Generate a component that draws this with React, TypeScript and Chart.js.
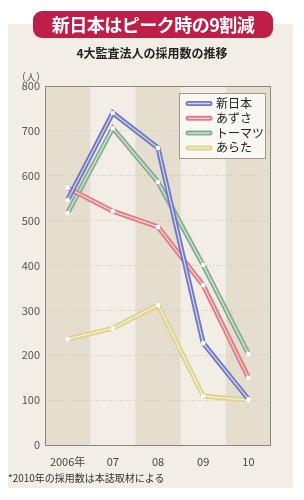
import React, { useEffect, useRef } from "react";
import { Chart, registerables } from "chart.js";

Chart.register(...registerables);

const categories = ["2006年", "07", "08", "09", "10"];
const seriesNames = ["新日本", "あずさ", "トーマツ", "あらた"];
const shinnihon = [546, 740, 662, 227, 102];
const azusa = [573, 521, 486, 356, 150];
const tohmatsu = [517, 706, 586, 401, 203];
const arata = [236, 260, 312, 109, 100];
const yMin = 0;
const yMax = 800;
const yStep = 100;

const lineColors = ["#7079c4", "#e27b84", "#86ad92", "#ddd38f"];
const stripeColors = ["#d2d5f2", "#f6d3d6", "#d8e8dc", "#f5f0d2"];
const FONT = "'Noto Sans CJK JP', 'Noto Sans', sans-serif";

const chartPlugin = {
  id: "decor",
  beforeDraw(chart: any) {
    const { ctx, chartArea } = chart;
    const xs = chart.scales.x;
    const w = xs.getPixelForValue(1) - xs.getPixelForValue(0);
    ctx.save();
    ctx.fillStyle = "#f2eee5";
    ctx.fillRect(chartArea.left, chartArea.top, chartArea.right - chartArea.left, chartArea.bottom - chartArea.top);
    ctx.fillStyle = "#e5decf";
    for (let i = 0; i < categories.length; i += 2) {
      const c = xs.getPixelForValue(i);
      const l = Math.max(chartArea.left, c - w / 2);
      const r = Math.min(chartArea.right, c + w / 2);
      ctx.fillRect(l, chartArea.top, r - l, chartArea.bottom - chartArea.top);
    }
    ctx.restore();
  },
  afterDatasetDraw(chart: any, args: any) {
    const { ctx } = chart;
    const pts = args.meta.data;
    const i = args.index;
    ctx.save();
    ctx.strokeStyle = stripeColors[i];
    ctx.lineWidth = 1.3;
    ctx.beginPath();
    pts.forEach((p: any, k: number) => (k === 0 ? ctx.moveTo(p.x, p.y) : ctx.lineTo(p.x, p.y)));
    ctx.stroke();
    ctx.fillStyle = "#ffffff";
    pts.forEach((p: any) => {
      ctx.beginPath();
      ctx.arc(p.x, p.y, 2.3, 0, Math.PI * 2);
      ctx.fill();
    });
    ctx.restore();
  },
  afterDraw(chart: any) {
    const { ctx, chartArea } = chart;
    ctx.save();
    ctx.strokeStyle = "#8c877c";
    ctx.lineWidth = 1;
    ctx.strokeRect(chartArea.left + 0.5, chartArea.top + 0.5, chartArea.right - chartArea.left - 1, chartArea.bottom - chartArea.top);
    // legend
    const lx = 179, ly = 93, lw = 86, lh = 65;
    ctx.fillStyle = "rgba(250,248,243,0.95)";
    ctx.fillRect(lx, ly, lw, lh);
    ctx.strokeStyle = "#a09a8e";
    ctx.strokeRect(lx + 0.5, ly + 0.5, lw, lh);
    chart.data.datasets.forEach((ds: any, i: number) => {
      const y = ly + 10.5 + i * 14.8;
      ctx.strokeStyle = lineColors[i];
      ctx.lineWidth = 5;
      ctx.lineCap = "round";
      ctx.beginPath();
      ctx.moveTo(188, y);
      ctx.lineTo(210, y);
      ctx.stroke();
      ctx.strokeStyle = stripeColors[i];
      ctx.lineWidth = 1.3;
      ctx.beginPath();
      ctx.moveTo(188, y);
      ctx.lineTo(210, y);
      ctx.stroke();
      ctx.fillStyle = "#222";
      ctx.font = `12px ${FONT}`;
      ctx.textBaseline = "middle";
      ctx.textAlign = "left";
      ctx.fillText(ds.label, 216, y);
    });
    ctx.restore();
  },
};

export default function App() {
  const ref = useRef<HTMLCanvasElement>(null);
  useEffect(() => {
    if (!ref.current) return;
    const data = [shinnihon, azusa, tohmatsu, arata];
    const chart = new Chart(ref.current, {
      type: "line",
      data: {
        labels: categories,
        datasets: seriesNames.map((name, i) => ({
          label: name,
          data: data[i],
          borderColor: lineColors[i],
          borderWidth: 5,
          pointRadius: 0,
          tension: 0,
          fill: false,
        })),
      },
      options: {
        responsive: false,
        animation: false,
        devicePixelRatio: 1,
        layout: { padding: { left: 0, top: 86, right: 33, bottom: 0 } },
        plugins: { legend: { display: false }, tooltip: { enabled: false } },
        scales: {
          x: {
            offset: true,
            afterFit: (s: any) => { s.height = 55; },
            grid: { display: false, drawTicks: false, offset: true },
            border: { display: false },
            ticks: { color: "#444", font: { family: FONT, size: 11 }, padding: 10, maxRotation: 0, autoSkip: false },
          },
          y: {
            min: yMin,
            max: yMax,
            afterFit: (s: any) => { s.width = 45; },
            grid: { color: "rgba(185,175,155,0.6)", drawTicks: false, lineWidth: 1 },
            border: { display: false, dash: [1, 2] },
            ticks: { stepSize: yStep, color: "#555", font: { family: FONT, size: 11 }, padding: 5 },
          },
        },
      },
      plugins: [chartPlugin],
    });
    return () => chart.destroy();
  }, []);

  return (
    <div style={{ position: "fixed", left: 0, top: 0, width: 304, height: 500, background: "#fff", overflow: "hidden", fontFamily: FONT }}>
      <div style={{ position: "absolute", left: 8, top: 24, width: 285, height: 464, background: "#f2eee5" }} />
      <canvas ref={ref} width={304} height={500} style={{ position: "absolute", left: 0, top: 0, width: 304, height: 500 }} />
      <div style={{ position: "absolute", left: 33, top: 11, width: 240, height: 27, background: "#be1e48", borderRadius: 9, color: "#fff", fontWeight: 700, fontSize: 18, lineHeight: "27px", textAlign: "center", letterSpacing: -0.5 }}>
        新日本はピーク時の9割減
      </div>
      <div style={{ position: "absolute", left: 0, top: 45, width: 304, textAlign: "center", fontSize: 12, fontWeight: 700, color: "#222", lineHeight: "16px" }}>
        4大監査法人の採用数の推移
      </div>
      <div style={{ position: "absolute", left: 16, top: 70, fontSize: 10, color: "#555", lineHeight: "14px" }}>（人）</div>
      <div style={{ position: "absolute", left: 8, top: 471, fontSize: 10, color: "#333", lineHeight: "14px", whiteSpace: "nowrap" }}>
        *2010年の採用数は本誌取材による
      </div>
    </div>
  );
}
